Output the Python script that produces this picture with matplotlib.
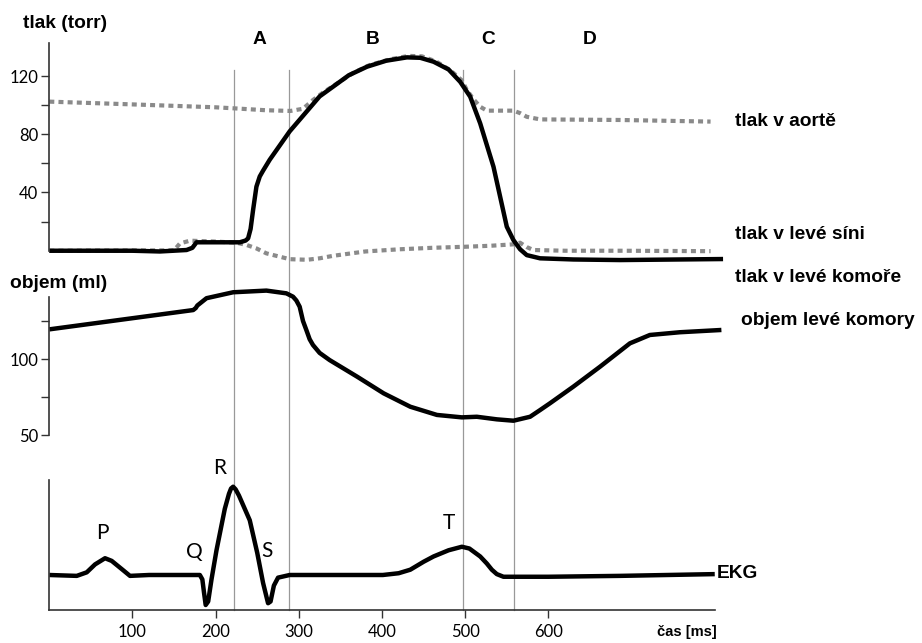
import matplotlib
matplotlib.use("Agg")
from matplotlib import pyplot as plt
from matplotlib import transforms

# tlak v levé komoře (ms, torr)
lv_t = [0, 100, 133, 165, 172, 177, 229, 236, 239, 242, 245, 249, 253, 257, 265, 273, 289, 301, 325,
        341, 360, 382, 405, 430, 446, 462, 480, 494, 506, 518, 534, 550, 558, 566, 574, 590, 630, 686, 810]
lv_p = [0, 0, -0.5, 0.5, 2, 5.8, 5.8, 7, 8.5, 15, 28, 44, 51, 55, 62.5, 69, 82, 90, 106,
        112.6, 120.5, 126.4, 130.5, 132.8, 132.5, 129.8, 124.5, 116, 105.8, 87.5, 57.7, 16.5, 7.3, 1,
        -3, -5.2, -6, -6.4, -5.7]

# tlak v aortě
ao_t = [0, 100, 200, 222, 260, 290, 305, 317, 330, 345, 365, 385, 410, 432, 448, 465, 482, 496,
        502, 510, 518, 526, 558, 566, 574, 590, 686, 795]
ao_p = [102.4, 100.5, 98.5, 97.8, 96.5, 96, 97.5, 103.5, 109, 114.5, 122, 127.5, 131.5, 133.8,
        133.5, 130, 124, 117, 110.4, 104, 98.9, 96.2, 96.2, 94.5, 92, 90.2, 89.8, 88.7]

# tlak v levé síni
la_t = [0, 150, 157, 169, 200, 225, 237, 249, 261, 289, 310, 325, 341, 380, 421, 460, 498, 530,
        558, 566, 574, 582, 620, 686, 795]
la_p = [0, 0.3, 5, 6.9, 6.3, 5.5, 4, 1.6, -1.8, -5.8, -6.2, -5.2, -3.5, -0.5, 1, 2, 2.7, 3.4,
        4.4, 5.5, 2.5, 0.5, 0, 0, -0.3]

# objem levé komory (ml)
vol_t = [0, 173, 176, 178, 189, 221, 261, 285, 293, 297, 301, 305, 309, 313, 317, 325, 337, 370,
         402, 434, 466, 496, 514, 538, 558, 578, 590, 602, 630, 662, 698, 722, 758, 808]
vol_v = [119.5, 132.2, 133.5, 135.2, 140, 143.9, 145, 143.2, 141, 138.5, 134.4, 125, 119.1, 113,
         109.2, 104, 99.3, 88.4, 77.4, 68.6, 63.2, 61.6, 62, 60.3, 59.4, 62, 66.4, 70.9, 81.8,
         94.9, 110.3, 115.8, 117.6, 119.1]

# EKG (mV)
ecg_t = [0, 33, 45, 55, 67, 75, 88, 97, 120, 181, 184, 186, 188, 191, 195, 201, 211, 216, 218.5,
         221, 224, 228, 241, 250, 257, 263, 266, 270, 275, 289, 401, 420, 434, 450, 462, 480, 496,
         505, 518, 526, 532, 538, 546, 600, 686, 800]
ecg_v = [0, -0.01, 0.03, 0.12, 0.19, 0.16, 0.06, -0.01, 0, 0, -0.05, -0.2, -0.34, -0.3, -0.05,
         0.28, 0.75, 0.92, 0.98, 1.0, 0.97, 0.9, 0.62, 0.25, -0.09, -0.32, -0.3, -0.12, -0.03, 0,
         0, 0.02, 0.06, 0.15, 0.21, 0.28, 0.32, 0.3, 0.21, 0.13, 0.06, 0.01, -0.02, -0.02, -0.01,
         0.01]

phase_lines = [222, 288, 497, 559]
phase_names = ["A", "B", "C", "D"]
phase_label_x = [259, 373, 488, 590]
time_ticks = [100, 200, 300, 400, 500, 600]

W, H = 922, 643
boldfam = ["Liberation Sans", "DejaVu Sans"]
bold = dict(family=boldfam, weight="bold", fontsize=13.8)
tickfont = ["Lato", "DejaVu Sans"]
plt.rcParams["font.family"] = tickfont

fig = plt.figure(figsize=(W / 100, H / 100), dpi=100)
left = 49.3 / W
width = 0.8318 * 820 / W


def px_axes(top, bottom):
    ax = fig.add_axes([left, 1 - bottom / H, width, (bottom - top) / H])
    ax.patch.set_visible(False)
    for s in ["top", "right", "bottom"]:
        ax.spines[s].set_visible(False)
    ax.spines["left"].set_color("#333333")
    ax.spines["left"].set_linewidth(1.2)
    ax.set_xlim(0, 820)
    ax.tick_params(axis="y", length=6, width=1, color="#333333", labelsize=12, pad=2)
    ax.set_xticks([])
    return ax


dot = dict(color="#8a8a8a", lw=3, linestyle=(0, (1.2, 1.0)), dash_capstyle="butt")
solid = dict(color="black", lw=3.2, solid_capstyle="butt", solid_joinstyle="round")

# tlak
ax1 = px_axes(39.6, 265.3)
ax1.set_ylim(-10, 145)
ax1.spines["left"].set_bounds(0, 143)
ax1.set_yticks([20, 40, 60, 80, 100, 120])
ax1.set_yticklabels(["", "40", "", "80", "", "120"])
ax1.plot(ao_t, ao_p, **dot)
ax1.plot(la_t, la_p, **dot)
ax1.plot(lv_t, lv_p, **solid)

# objem
ax2 = px_axes(283, 442.6)
ax2.set_ylim(45, 150)
ax2.spines["left"].set_bounds(50, 141)
ax2.set_yticks([50, 75, 100, 125])
ax2.set_yticklabels(["50", "", "100", ""])
ax2.plot(vol_t, vol_v, **solid)

# EKG
ax3 = px_axes(477.9, 610.3)
ax3.set_ylim(-0.4, 1.1)
ax3.spines["left"].set_bounds(-0.4, 1.08)
ax3.set_yticks([])
ax3.spines["bottom"].set_visible(True)
ax3.spines["bottom"].set_color("#333333")
ax3.spines["bottom"].set_linewidth(1.2)
ax3.spines["bottom"].set_bounds(0, 800)
ax3.set_xticks(time_ticks)
ax3.tick_params(axis="x", length=6, width=1, color="#333333", labelsize=12, pad=4)
ax3.plot(ecg_t, ecg_v, **solid)

# svislé čáry fází
tr = transforms.blended_transform_factory(ax3.transData, fig.transFigure)
for x in phase_lines:
    fig.add_artist(plt.Line2D([x, x], [1 - 610 / H, 1 - 70 / H], transform=tr,
                              color="#999999", lw=0.9, zorder=-1))

for name, x in zip(phase_names, phase_label_x):
    fig.text(x / W, 1 - 40 / H, name, ha="center", va="center", **bold)

fig.text(23 / W, 1 - 24 / H, "tlak (torr)", ha="left", va="center", **bold)
fig.text(10 / W, 1 - 283 / H, "objem (ml)", ha="left", va="center", **bold)
fig.text(735 / W, 1 - 121 / H, "tlak v aortě", ha="left", va="center", **bold)
fig.text(735 / W, 1 - 234 / H, "tlak v levé síni", ha="left", va="center", **bold)
fig.text(735 / W, 1 - 277 / H, "tlak v levé komoře", ha="left", va="center", **bold)
fig.text(741 / W, 1 - 321 / H, "objem levé komory", ha="left", va="center", **bold)
fig.text(717 / W, 1 - 574 / H, "EKG", ha="left", va="center", **bold)
fig.text(687 / W, 1 - 632 / H, "čas [ms]", ha="center", va="center",
         family=boldfam, weight="bold", fontsize=10.5)

for lab, x, y in [("P", 102, 533), ("Q", 194, 552), ("R", 220, 468), ("S", 267, 551), ("T", 449, 523)]:
    fig.text(x / W, 1 - y / H, lab, ha="center", va="center", fontsize=15, family=tickfont)

fig.savefig("out.png", dpi=100)
